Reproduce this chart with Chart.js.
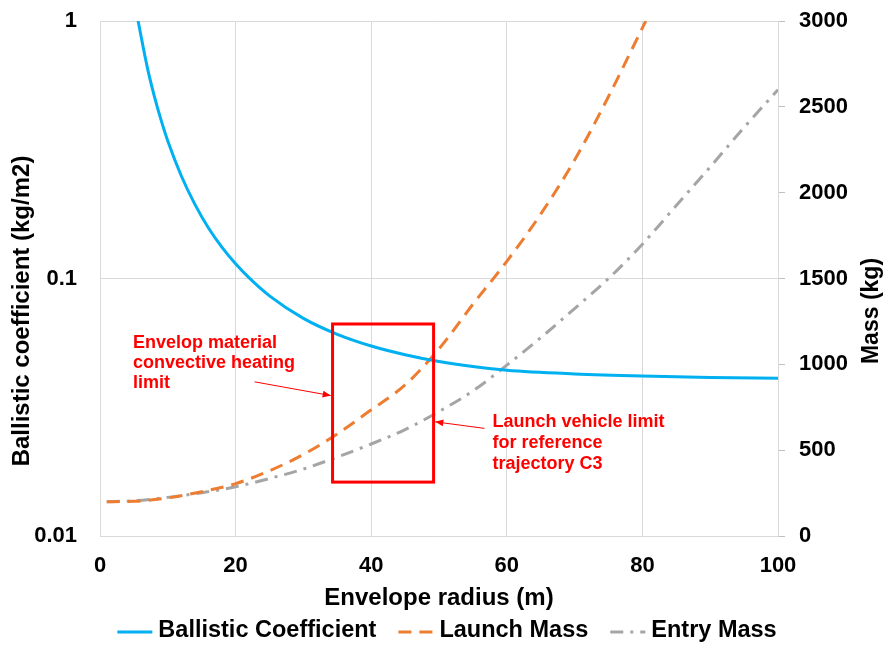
<!DOCTYPE html>
<html>
<head>
<meta charset="utf-8">
<script src="https://cdn.jsdelivr.net/npm/chart.js@4/dist/chart.umd.min.js"></script>
<style>
  html, body { margin: 0; padding: 0; background: #ffffff; }
  #wrap { width: 885px; height: 645px; }
</style>
</head>
<body>
<div id="wrap"><canvas id="chart" width="885" height="645"></canvas></div>
<script>
// Envelope radius (m) sample points and series values
const bcRadius = [5.5, 7, 8, 9, 10, 12, 14, 16, 18, 20, 22, 25, 30, 35, 40, 45, 50, 55, 60, 70, 80, 90, 100];
const bcValues = [1.038, 0.656, 0.512, 0.413, 0.342, 0.250, 0.194, 0.157, 0.132, 0.114, 0.1005, 0.0856, 0.0700, 0.0607, 0.0547, 0.0506, 0.0476, 0.0455, 0.0440, 0.0426, 0.0418, 0.0413, 0.0410];

const launchRadius = [1, 5, 10, 15, 20, 25, 30, 35, 40, 45, 50, 55, 60, 65, 70, 75, 80, 80.5];
const launchMass = [200, 202, 222, 258, 305, 380, 475, 595, 735, 880, 1090, 1350, 1600, 1875, 2190, 2560, 2960, 3000];

const entryRadius = [1, 5, 10, 15, 20, 25, 30, 35, 40, 45, 50, 55, 60, 65, 70, 75, 80, 85, 90, 95, 100];
const entryMass = [200, 205, 225, 252, 287, 335, 390, 460, 536, 620, 725, 845, 995, 1155, 1325, 1500, 1700, 1925, 2150, 2380, 2600];

const seriesNames = ['Ballistic Coefficient', 'Launch Mass', 'Entry Mass'];
const bcTicks = [0.01, 0.1, 1];

// Design-limit box (radius in m, mass in kg) and its callouts
const limitBox = { r0: 34.3, r1: 49.2, m0: 314, m1: 1235 };
const callouts = [
  { lines: ['Envelop material', 'convective heating', 'limit'], r: 4.85, m: 1124, gap: 20,
    from: { r: 22.8, m: 898 }, to: { r: 34.03, m: 818 } },
  { lines: ['Launch vehicle limit', 'for reference', 'trajectory C3'], r: 57.9, m: 665, gap: 21,
    from: { r: 56.7, m: 627 }, to: { r: 49.45, m: 665 } }
];

const FONT = '"Liberation Sans", Arial, sans-serif';
const GRID = '#d9d9d9';
const RED = '#ff0000';

const toPoints = (xs, ys) => xs.map((x, i) => ({ x: x, y: ys[i] }));

// Vertical axes: fixed width, no extra top/bottom reserve for the end labels
const fixVertical = width => s => {
  s.width = width;
  s.paddingTop = 0;
  s.paddingBottom = 0;
};

// Limit box, arrows and notes drawn over the curves
const limitPlugin = {
  id: 'limitBox',
  afterDatasetsDraw(chart) {
    const { ctx } = chart;
    const xs = chart.scales.x, ms = chart.scales.y1;
    ctx.save();
    ctx.strokeStyle = RED;
    ctx.lineWidth = 3;
    const bx0 = xs.getPixelForValue(limitBox.r0), bx1 = xs.getPixelForValue(limitBox.r1);
    const by0 = ms.getPixelForValue(limitBox.m1), by1 = ms.getPixelForValue(limitBox.m0);
    ctx.strokeRect(bx0, by0, bx1 - bx0, by1 - by0);

    callouts.forEach(c => {
      const fx = xs.getPixelForValue(c.from.r), fy = ms.getPixelForValue(c.from.m);
      const tx = xs.getPixelForValue(c.to.r), ty = ms.getPixelForValue(c.to.m);
      ctx.lineWidth = 1;
      ctx.strokeStyle = RED;
      ctx.fillStyle = RED;
      ctx.beginPath();
      ctx.moveTo(fx, fy);
      ctx.lineTo(tx, ty);
      ctx.stroke();
      const a = Math.atan2(ty - fy, tx - fx);
      const len = 8, wid = 3.5;
      ctx.beginPath();
      ctx.moveTo(tx, ty);
      ctx.lineTo(tx - len * Math.cos(a) + wid * Math.sin(a), ty - len * Math.sin(a) - wid * Math.cos(a));
      ctx.lineTo(tx - len * Math.cos(a) - wid * Math.sin(a), ty - len * Math.sin(a) + wid * Math.cos(a));
      ctx.closePath();
      ctx.fill();

      ctx.font = 'bold 18px ' + FONT;
      ctx.textAlign = 'left';
      ctx.textBaseline = 'middle';
      const lx = xs.getPixelForValue(c.r), ly = ms.getPixelForValue(c.m);
      c.lines.forEach((t, i) => ctx.fillText(t, lx, ly + i * c.gap));
    });
    ctx.restore();
  }
};

// Axis titles for both value axes, read bottom-to-top
const axisTitlePlugin = {
  id: 'sideTitles',
  afterDraw(chart) {
    const { ctx } = chart;
    ctx.save();
    ctx.fillStyle = '#000';
    ctx.textAlign = 'center';
    ctx.textBaseline = 'middle';
    [[22, 'Ballistic coefficient (kg/m2)', 24], [872, 'Mass (kg)', 23]].forEach(([x, t, size]) => {
      ctx.save();
      ctx.font = 'bold ' + size + 'px ' + FONT;
      ctx.translate(x, 311);
      ctx.rotate(-Math.PI / 2);
      ctx.fillText(t, 0, 0);
      ctx.restore();
    });
    ctx.restore();
  }
};

// Line-sample legend under the x-axis title
const legendPlugin = {
  id: 'lineLegend',
  afterDraw(chart) {
    const { ctx } = chart;
    ctx.save();
    ctx.font = 'bold 23.5px ' + FONT;
    const sample = 35, gap = 6, sep = 22;
    const items = chart.data.datasets.map(ds => ({
      label: ds.label, color: ds.borderColor, dash: ds.borderDash || [],
      w: ctx.measureText(ds.label).width
    }));
    const total = items.reduce((s, it) => s + sample + gap + it.w, 0) + sep * (items.length - 1);
    let x = 447 - total / 2;
    const y = 632;
    items.forEach(it => {
      ctx.strokeStyle = it.color;
      ctx.lineWidth = 3;
      ctx.setLineDash(it.dash);
      ctx.beginPath();
      ctx.moveTo(x, y);
      ctx.lineTo(x + sample, y);
      ctx.stroke();
      ctx.setLineDash([]);
      ctx.fillStyle = '#000';
      ctx.textAlign = 'left';
      ctx.textBaseline = 'middle';
      ctx.fillText(it.label, x + sample + gap, y - 1);
      x += sample + gap + it.w + sep;
    });
    ctx.restore();
  }
};

new Chart(document.getElementById('chart'), {
  type: 'line',
  data: {
    datasets: [
      {
        label: seriesNames[0],
        data: toPoints(bcRadius, bcValues),
        yAxisID: 'y',
        borderColor: '#00b0f0',
        borderWidth: 3,
        pointRadius: 0,
        cubicInterpolationMode: 'monotone',
        fill: false
      },
      {
        label: seriesNames[1],
        data: toPoints(launchRadius, launchMass),
        yAxisID: 'y1',
        borderColor: '#ed7d31',
        borderWidth: 3,
        borderDash: [13, 8],
        pointRadius: 0,
        cubicInterpolationMode: 'monotone',
        fill: false
      },
      {
        label: seriesNames[2],
        data: toPoints(entryRadius, entryMass),
        yAxisID: 'y1',
        borderColor: '#a5a5a5',
        borderWidth: 3,
        borderDash: [13, 7, 3, 7],
        pointRadius: 0,
        cubicInterpolationMode: 'monotone',
        fill: false
      }
    ]
  },
  options: {
    responsive: false,
    animation: false,
    devicePixelRatio: 1,
    layout: { padding: { top: 21, left: 0, right: 0, bottom: 32 } },
    plugins: {
      legend: { display: false },
      tooltip: { enabled: false }
    },
    scales: {
      x: {
        type: 'linear',
        min: 0,
        max: 100,
        ticks: { stepSize: 20, padding: 17, color: '#000', font: { family: FONT, size: 22, weight: 'bold' } },
        grid: { color: GRID, drawTicks: false },
        border: { color: GRID },
        title: {
          display: true,
          text: 'Envelope radius (m)',
          color: '#000',
          font: { family: FONT, size: 24, weight: 'bold' },
          padding: { top: 0, bottom: 0 }
        },
        afterFit: s => { s.height = 77; }
      },
      y: {
        type: 'logarithmic',
        position: 'left',
        min: 0.01,
        max: 1,
        afterBuildTicks: s => { s.ticks = bcTicks.map(v => ({ value: v })); },
        ticks: {
          padding: 23,
          color: '#000',
          font: { family: FONT, size: 22, weight: 'bold' },
          callback: v => String(v)
        },
        grid: { color: GRID, drawTicks: false },
        border: { color: GRID },
        afterFit: fixVertical(100)
      },
      y1: {
        type: 'linear',
        position: 'right',
        min: 0,
        max: 3000,
        ticks: {
          stepSize: 500,
          padding: 14,
          color: '#000',
          font: { family: FONT, size: 22, weight: 'bold' },
          callback: v => String(v)
        },
        grid: { drawOnChartArea: false, color: '#bfbfbf', tickLength: 7 },
        border: { color: GRID },
        afterFit: fixVertical(107)
      }
    }
  },
  plugins: [limitPlugin, axisTitlePlugin, legendPlugin]
});
</script>
</body>
</html>
